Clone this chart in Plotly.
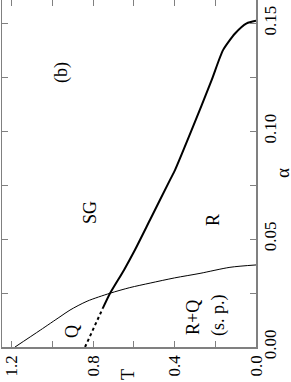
import plotly.graph_objects as go

# Phase diagram (b): temperature T vs alpha, drawn rotated
# thin line: Q / R boundary
thin_T = [1.184, 1.06, 0.963, 0.914, 0.83, 0.717, 0.62, 0.52, 0.40, 0.275, 0.128, 0.0]
thin_a = [0.0, 0.0078, 0.0140, 0.0171, 0.0212, 0.0249, 0.0275, 0.0296, 0.0320, 0.0341, 0.0369, 0.0380]

# thick line: SG boundary
thick_T = [0.753, 0.717, 0.649, 0.595, 0.521, 0.423, 0.398, 0.316, 0.218, 0.162, 0.103, 0.046, 0.0]
thick_a = [0.0179, 0.0249, 0.0356, 0.0449, 0.0588, 0.0773, 0.0819, 0.1005, 0.1236, 0.1375, 0.1452, 0.1499, 0.1511]

# dotted continuation
dot_T = [0.840, 0.753]
dot_a = [0.0, 0.0179]

T_ticks = [0.0, 0.2, 0.4, 0.6, 0.8, 1.0, 1.2]
T_ticktext = ["0.0", "", "0.4", "", "0.8", "", "1.2"]
a_ticks = [0.0, 0.025, 0.05, 0.075, 0.10, 0.125, 0.15]
a_ticktext = ["0.00", "", "0.05", "", "0.10", "", "0.15"]

region_labels = ["(b)", "SG", "R", "Q", "R+Q", "(s. p.)"]
region_T = [0.953, 0.816, 0.211, 0.904, 0.31, 0.187]
region_a = [0.1269, 0.0625, 0.0588, 0.0069, 0.0139, 0.0148]

FONT = "Liberation Serif, Times New Roman, serif"

fig = go.Figure()
fig.add_trace(go.Scatter(x=thin_T, y=thin_a, mode="lines",
                         line=dict(color="black", width=1, shape="spline", smoothing=0.8),
                         showlegend=False, hoverinfo="skip"))
fig.add_trace(go.Scatter(x=thick_T, y=thick_a, mode="lines",
                         line=dict(color="black", width=2, shape="spline", smoothing=0.6),
                         showlegend=False, hoverinfo="skip"))
fig.add_trace(go.Scatter(x=dot_T, y=dot_a, mode="lines",
                         line=dict(color="black", width=2, dash="dot"),
                         showlegend=False, hoverinfo="skip"))

for txt, t, a in zip(region_labels, region_T, region_a):
    fig.add_annotation(x=t, y=a, xref="x", yref="y", text=txt, showarrow=False,
                       textangle=-90, xanchor="center", yanchor="middle",
                       font=dict(family=FONT, size=18, color="black"))

fig.add_annotation(x=(282 - 2) / 254, y=(347 - 173) / 347, xref="paper", yref="paper",
                   text="α", showarrow=False, textangle=-90, xanchor="center", yanchor="middle",
                   borderpad=0, font=dict(family=FONT, size=19, color="black"))
fig.add_annotation(x=(128 - 2) / 254, y=(347 - 375) / 347, xref="paper", yref="paper",
                   text="T", showarrow=False, textangle=-90, xanchor="center", yanchor="middle",
                   borderpad=0, font=dict(family=FONT, size=18, color="black"))

axis_common = dict(showgrid=False, zeroline=False, showline=True, linecolor="#808080",
                   linewidth=1.5, mirror="ticks", ticks="inside", ticklen=6,
                   tickcolor="#808080", tickwidth=1, automargin=False,
                   tickfont=dict(family=FONT, size=17, color="black"), tickangle=-90)

fig.update_xaxes(range=[1.248, 0.0], tickvals=T_ticks, ticktext=T_ticktext,
                 ticklabelstandoff=0, **axis_common)
fig.update_yaxes(range=[0.0, 0.1607], tickvals=a_ticks, ticktext=a_ticktext, side="right",
                 ticklabelstandoff=-2, **axis_common)

fig.update_layout(width=291, height=382, autosize=False,
                  margin=dict(l=2, r=35, t=0, b=35, autoexpand=False),
                  plot_bgcolor="white", paper_bgcolor="white")

fig.write_html("out.html", config={"displayModeBar": False, "staticPlot": True},
               post_script="document.body.style.margin='0';document.body.style.padding='0';"
                           "document.body.style.overflow='hidden';")
